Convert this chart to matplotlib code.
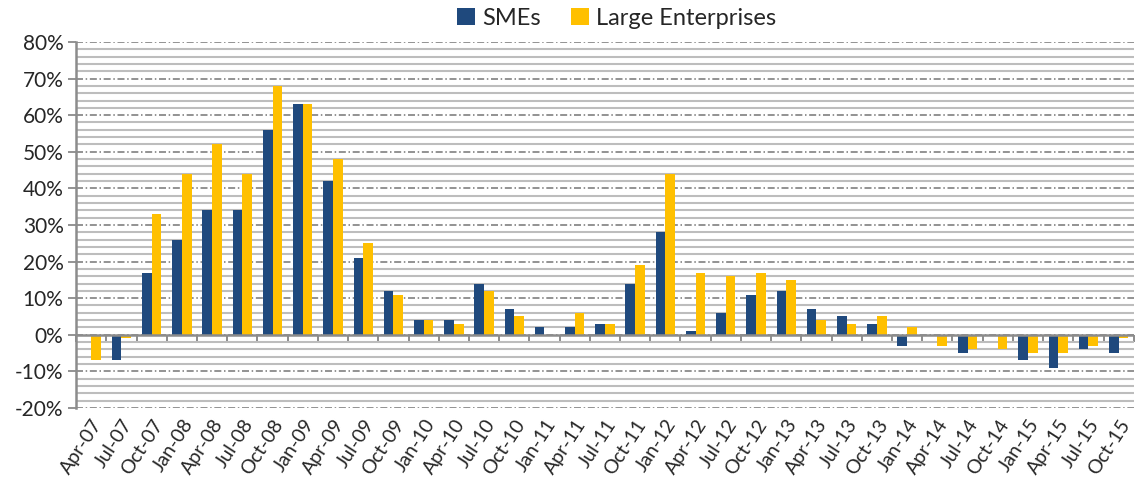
import numpy as np
import matplotlib
matplotlib.use("Agg")
import matplotlib.pyplot as plt
from matplotlib.ticker import FixedLocator, PercentFormatter

# --- data ---
quarters = ["Apr-07", "Jul-07", "Oct-07",
            "Jan-08", "Apr-08", "Jul-08", "Oct-08",
            "Jan-09", "Apr-09", "Jul-09", "Oct-09",
            "Jan-10", "Apr-10", "Jul-10", "Oct-10",
            "Jan-11", "Apr-11", "Jul-11", "Oct-11",
            "Jan-12", "Apr-12", "Jul-12", "Oct-12",
            "Jan-13", "Apr-13", "Jul-13", "Oct-13",
            "Jan-14", "Apr-14", "Jul-14", "Oct-14",
            "Jan-15", "Apr-15", "Jul-15", "Oct-15"]
smes = [0, -7, 17, 26, 34, 34, 56, 63, 42, 21, 12,
        4, 4, 14, 7, 2, 2, 3, 14, 28, 1, 6, 11,
        12, 7, 5, 3, -3, 0, -5, 0, -7, -9, -4, -5]
large = [-7, -1, 33, 44, 52, 44, 68, 63, 48, 25, 11,
         4, 3, 12, 5, 0, 6, 3, 19, 44, 17, 16, 17,
         15, 4, 3, 5, 2, -3, -4, -4, -5, -5, -3, -1]

NAVY = "#1F497D"
GOLD = "#FFC000"
TXT = "#262626"

plt.rcParams['font.family'] = ['Lato', 'DejaVu Sans']
plt.rcParams['axes.unicode_minus'] = False

fig = plt.figure(figsize=(11.36, 4.88), dpi=100)
ax = fig.add_axes([0.067, 0.164, 0.931, 0.75])

x = np.arange(len(quarters))
w = 0.32
ax.bar(x - w / 2, smes, w, color=NAVY, label="SMEs", zorder=3)
ax.bar(x + w / 2, large, w, color=GOLD, label="Large Enterprises", zorder=3)

ax.set_xlim(-0.5, len(quarters) - 0.5)
ax.set_ylim(-20, 80)

# gridlines: solid minor every 2%, dash-dot major every 10%
for v in np.arange(-20, 81, 2):
    if v % 10 == 0:
        ax.axhline(v, color="#808080", lw=1.2, ls=(0, (4.2, 1.6, 0.9, 1.6)), zorder=1)
    else:
        ax.axhline(v, color="#BDBDBD", lw=1.5, zorder=1)
ax.axhline(0, color="#8C8C8C", lw=1.8, zorder=4)

ax.yaxis.set_major_locator(FixedLocator(np.arange(-20, 81, 10)))
ax.yaxis.set_major_formatter(PercentFormatter(decimals=0))
ax.tick_params(axis="y", length=6, width=1.2, color="#808080",
               labelsize=15, labelcolor=TXT, pad=3)

ax.set_xticks(x)
ax.set_xticklabels(quarters, rotation=57, ha="right", rotation_mode="anchor")
ax.tick_params(axis="x", length=0, labelsize=14, labelcolor=TXT, pad=6)

# category boundary ticks hanging below the zero line
sec = ax.secondary_xaxis(0, transform=ax.transData)
sec.set_xticks(np.arange(len(quarters) + 1) - 0.5)
sec.tick_params(axis="x", length=5, width=1.4, color="#8C8C8C", labelbottom=False)
sec.spines["bottom"].set_visible(False)

for s in ["top", "right", "bottom"]:
    ax.spines[s].set_visible(False)
ax.spines["left"].set_color("#8C8C8C")
ax.spines["left"].set_linewidth(1.8)
ax.spines["left"].set_zorder(4)

fig.legend(loc="center", bbox_to_anchor=(0.543, 0.963), ncol=2, frameon=False,
           fontsize=17, handlelength=0.75, handleheight=0.75, handletextpad=0.3,
           columnspacing=1.3, labelcolor=TXT)

fig.savefig("out.png", dpi=100)
